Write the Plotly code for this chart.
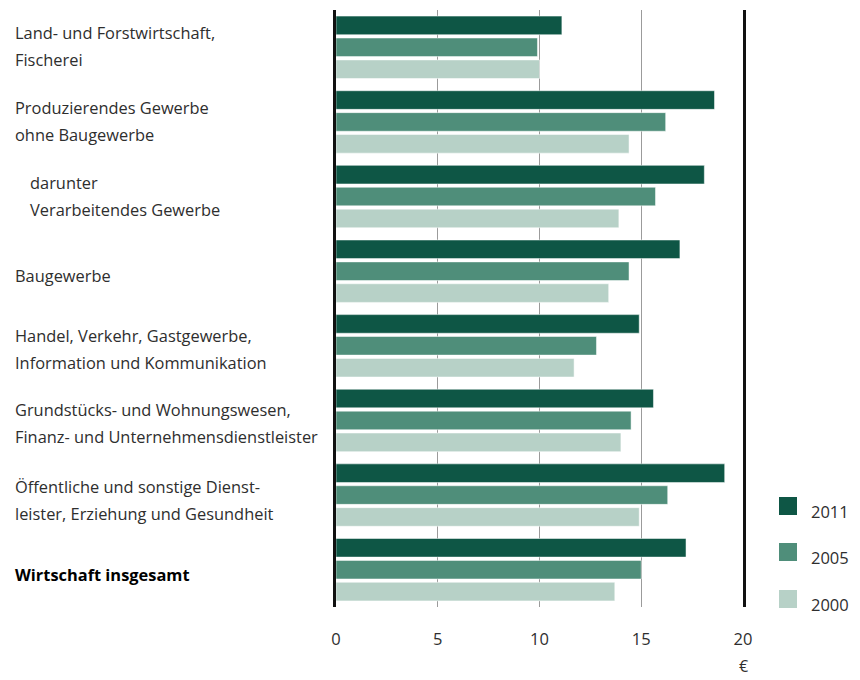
import plotly.graph_objects as go

# ---- data ----
categories = [
    "Land- und Forstwirtschaft,<br>Fischerei",
    "Produzierendes Gewerbe<br>ohne Baugewerbe",
    "darunter<br>Verarbeitendes Gewerbe",
    "Baugewerbe",
    "Handel, Verkehr, Gastgewerbe,<br>Information und Kommunikation",
    "Grundstücks- und Wohnungswesen,<br>Finanz- und Unternehmensdienstleister",
    "Öffentliche und sonstige Dienst-<br>leister, Erziehung und Gesundheit",
    "Wirtschaft insgesamt",
]
years = ["2011", "2005", "2000"]
values_2011 = [11.1, 18.6, 18.1, 16.9, 14.9, 15.6, 19.1, 17.2]
values_2005 = [9.9, 16.2, 15.7, 14.4, 12.8, 14.5, 16.3, 15.0]
values_2000 = [10.0, 14.4, 13.9, 13.4, 11.7, 14.0, 14.9, 13.7]
x_ticks = [0, 5, 10, 15, 20]
unit_label = "€"

# ---- styles ----
colors = {"2011": "#0e5645", "2005": "#4f8e7a", "2000": "#b7d1c7"}
indented = {2}
bold = {7}
label_offsets = [0, 0, 0, -5, -4, -4, -6, -6]  # px, negative = down
FONT = "Open Sans"
TEXT_COLOR = "#2e2e2e"

W, H = 860, 680
L, R, T, B = 336, 117, 10, 73
PW, PH = W - L - R, H - T - B


def px_x(p):
    return (p - L) / PW


def px_y(p):
    return (H - B - p) / PH


series = {"2011": values_2011, "2005": values_2005, "2000": values_2000}

fig = go.Figure()
for yr in years:
    fig.add_trace(go.Bar(
        y=list(range(len(categories))),
        x=series[yr],
        orientation="h",
        name=yr,
        marker=dict(color=colors[yr], line=dict(color="white", width=0.5)),
        showlegend=False,
        hoverinfo="x+name",
    ))

annotations = []
for i, cat in enumerate(categories):
    lines = cat.split("<br>")
    n = len(lines)
    for j, line in enumerate(lines):
        shift = ((n - 1) / 2 - j) * 27 + 1 + label_offsets[i]
        txt = f"<b>{line}</b>" if i in bold else line
        annotations.append(dict(
            x=px_x(28 if i in indented else 13), xref="paper",
            y=i, yref="y", yshift=shift,
            text=txt, showarrow=False, xanchor="left", yanchor="middle",
            font=dict(family=FONT, size=16.4, color="#000" if i in bold else TEXT_COLOR),
        ))

annotations.append(dict(
    x=x_ticks[-1], xref="x", y=px_y(679), yref="paper",
    text=unit_label, showarrow=False, xanchor="center", yanchor="bottom",
    font=dict(family=FONT, size=16, color=TEXT_COLOR),
))

shapes = []
leg_tops = [497, 543, 590]
for yr, top in zip(years, leg_tops):
    shapes.append(dict(
        type="rect", xref="paper", yref="paper",
        x0=px_x(779), x1=px_x(797), y0=px_y(top + 18), y1=px_y(top),
        fillcolor=colors[yr], line=dict(width=0),
    ))
    annotations.append(dict(
        x=px_x(809), xref="paper", y=px_y(top + 14), yref="paper",
        text=yr, showarrow=False, xanchor="left", yanchor="middle",
        font=dict(family=FONT, size=16.5, color=TEXT_COLOR),
    ))

fig.update_layout(
    width=W, height=H,
    margin=dict(l=L, r=R, t=T, b=B, pad=0),
    paper_bgcolor="white", plot_bgcolor="white",
    barmode="group", bargap=0.12, bargroupgap=0.15,
    showlegend=False,
    annotations=annotations, shapes=shapes,
    xaxis=dict(
        range=[0, 20], tickvals=x_ticks, ticktext=[str(v) for v in x_ticks],
        showgrid=True, gridcolor="#9b9b9b", gridwidth=1,
        zeroline=False, showline=False, ticks="",
        tickfont=dict(family=FONT, size=16.5, color=TEXT_COLOR),
        ticklabelstandoff=20,
    ),
    yaxis=dict(
        autorange="reversed", showticklabels=False, showgrid=False,
        zeroline=False, showline=True, mirror=True, linecolor="#111",
        linewidth=2.5, ticks="",
    ),
)

fig.write_html(
    "out.html",
    config={"displayModeBar": False},
    post_script="document.body.style.margin='0px';document.body.style.overflow='hidden';",
)
